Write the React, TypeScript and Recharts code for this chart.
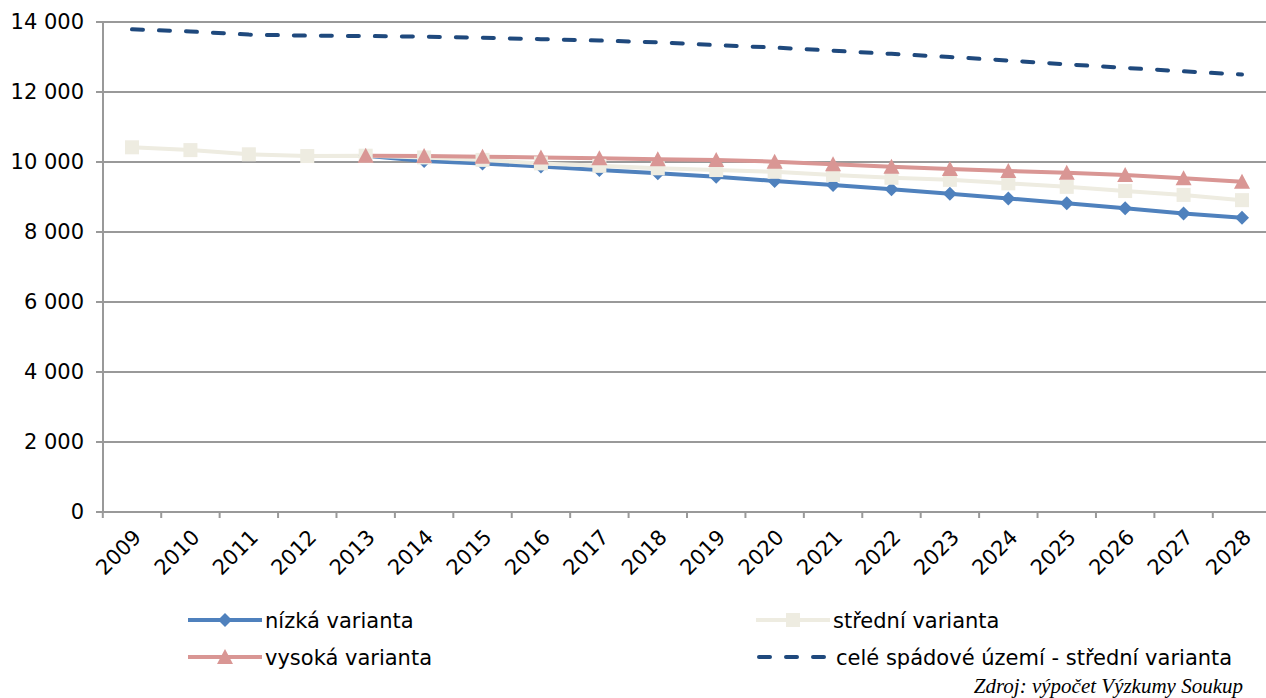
import React from 'react';
import { LineChart, Line, XAxis, YAxis, CartesianGrid, Legend } from 'recharts';

const years = [
  '2009', '2010', '2011', '2012', '2013', '2014', '2015', '2016', '2017', '2018',
  '2019', '2020', '2021', '2022', '2023', '2024', '2025', '2026', '2027', '2028',
];

// nízká varianta (starts 2013)
const nizka = [
  null, null, null, null, 10180, 10030, 9960, 9870, 9770, 9680,
  9580, 9460, 9340, 9220, 9090, 8960, 8820, 8680, 8530, 8410,
];

// střední varianta
const stredni = [
  10420, 10340, 10220, 10170, 10180, 10130, 10060, 9960, 9890, 9820,
  9770, 9720, 9630, 9550, 9490, 9390, 9290, 9170, 9060, 8910,
];

// vysoká varianta (starts 2013)
const vysoka = [
  null, null, null, null, 10180, 10170, 10150, 10130, 10105, 10076,
  10057, 10010, 9934, 9866, 9800, 9740, 9694, 9629, 9534, 9437,
];

// celé spádové území - střední varianta
const celeUzemi = [
  13790, 13730, 13640, 13610, 13600, 13580, 13550, 13510, 13470, 13420,
  13340, 13270, 13180, 13090, 13000, 12900, 12790, 12690, 12590, 12500,
];

const yTicks = [0, 2000, 4000, 6000, 8000, 10000, 12000, 14000];

const labels = {
  nizka: 'nízká varianta',
  stredni: 'střední varianta',
  vysoka: 'vysoká varianta',
  cele: 'celé spádové území - střední varianta',
};
const sourceNote = 'Zdroj: výpočet Výzkumy Soukup';

const data = years.map((year, i) => ({
  year,
  nizka: nizka[i],
  stredni: stredni[i],
  vysoka: vysoka[i],
  cele: celeUzemi[i],
}));

const FONT = '"DejaVu Sans", Verdana, sans-serif';
const BLUE = '#4F81BD';
const BEIGE = '#EEECE1';
const RED = '#D99694';
const NAVY = '#1F497D';
const GRID = '#999999';

const fmt = (v: number) => String(v).replace(/\B(?=(\d{3})+(?!\d))/g, ' ');

// marker shapes
const diamond = (cx: number, cy: number, color: string) => (
  <polygon points={`${cx},${cy - 7} ${cx + 7},${cy} ${cx},${cy + 7} ${cx - 7},${cy}`} fill={color} />
);
const square = (cx: number, cy: number, color: string) => (
  <rect x={cx - 7} y={cy - 7} width={14} height={14} fill={color} />
);
const triangle = (cx: number, cy: number, color: string) => (
  <polygon points={`${cx},${cy - 8} ${cx + 8},${cy + 7} ${cx - 8},${cy + 7}`} fill={color} />
);

const makeDot = (shape: (cx: number, cy: number, c: string) => React.ReactElement, color: string) =>
  (props: any) => {
    const { cx, cy, index } = props;
    if (cx == null || cy == null || props.value == null) return <g key={`e-${index}`} />;
    return <g key={`d-${index}`}>{shape(cx, cy, color)}</g>;
  };

// year labels with tick marks between categories
const YearTick = (props: any) => {
  const { x, y, payload, width, visibleTicksCount } = props;
  const half = width && visibleTicksCount ? width / visibleTicksCount / 2 : 29.2;
  const axisY = y - 16;
  return (
    <g>
      <line x1={x - half} y1={axisY} x2={x - half} y2={axisY + 6} stroke={GRID} strokeWidth={2} />
      <text
        x={x}
        y={y}
        dy="0.71em"
        textAnchor="end"
        transform={`rotate(-45, ${x}, ${y})`}
        fontSize={21}
        fontFamily={FONT}
        fill="#000"
      >
        {payload.value}
      </text>
    </g>
  );
};

const LegendRow = ({ x, y, color, label, marker, dashed }: any) => (
  <g>
    <line
      x1={x}
      y1={y}
      x2={x + 74}
      y2={y}
      stroke={color}
      strokeWidth={4}
      strokeDasharray={dashed ? '11 16' : undefined}
      strokeLinecap={dashed ? 'round' : 'butt'}
    />
    {marker && marker(x + 37, y, color)}
    <text x={x + 77} y={y} dy="0.36em" fontSize={21} fontFamily={FONT} fill="#000">
      {label}
    </text>
  </g>
);

const renderLegend = () => (
  <svg width={1266} height={98} style={{ display: 'block' }}>
    <LegendRow x={188} y={20} color={BLUE} label={labels.nizka} marker={diamond} />
    <LegendRow x={756} y={20} color={BEIGE} label={labels.stredni} marker={square} />
    <LegendRow x={188} y={57} color={RED} label={labels.vysoka} marker={triangle} />
    <LegendRow x={759} y={57} color={NAVY} label={labels.cele} dashed />
    <text
      x={1243}
      y={93}
      textAnchor="end"
      fontSize={21}
      fontStyle="italic"
      fontFamily='"Liberation Serif", "Times New Roman", serif'
      fill="#000"
    >
      {sourceNote}
    </text>
  </svg>
);

export default function App() {
  return (
    <div
      style={{
        position: 'absolute',
        left: 0,
        top: 0,
        width: 1266,
        height: 698,
        overflow: 'hidden',
        background: '#fff',
      }}
    >
      <LineChart
        width={1280}
        height={698}
        data={data}
        margin={{ top: 22, right: 9, left: 0, bottom: 106 }}
      >
        <CartesianGrid vertical={false} stroke={GRID} strokeWidth={2} />
        <XAxis
          dataKey="year"
          height={80}
          interval={0}
          padding={{ left: 29, right: 29 }}
          axisLine={{ stroke: GRID, strokeWidth: 2 }}
          tickLine={false}
          tickSize={6}
          tickMargin={10}
          tick={<YearTick />}
        />
        <YAxis
          domain={[0, 14000]}
          ticks={yTicks}
          width={103}
          tickFormatter={fmt}
          axisLine={{ stroke: GRID, strokeWidth: 2 }}
          tickLine={{ stroke: GRID, strokeWidth: 2 }}
          tickSize={7}
          tickMargin={12}
          tick={{ fontSize: 21, fontFamily: FONT, fill: '#000' }}
        />
        <Legend
          layout="horizontal"
          verticalAlign="middle"
          align="center"
          wrapperStyle={{ left: 0, top: 600, width: 1266 }}
          content={renderLegend}
        />
        <Line
          dataKey="nizka"
          name={labels.nizka}
          stroke={BLUE}
          strokeWidth={4}
          dot={makeDot(diamond, BLUE)}
          activeDot={false}
          isAnimationActive={false}
        />
        <Line
          dataKey="stredni"
          name={labels.stredni}
          stroke={BEIGE}
          strokeWidth={4}
          dot={makeDot(square, BEIGE)}
          activeDot={false}
          isAnimationActive={false}
        />
        <Line
          dataKey="vysoka"
          name={labels.vysoka}
          stroke={RED}
          strokeWidth={4}
          dot={makeDot(triangle, RED)}
          activeDot={false}
          isAnimationActive={false}
        />
        <Line
          dataKey="cele"
          name={labels.cele}
          stroke={NAVY}
          strokeWidth={4}
          strokeDasharray="11 16"
          strokeLinecap="round"
          dot={false}
          activeDot={false}
          isAnimationActive={false}
        />
      </LineChart>
    </div>
  );
}
